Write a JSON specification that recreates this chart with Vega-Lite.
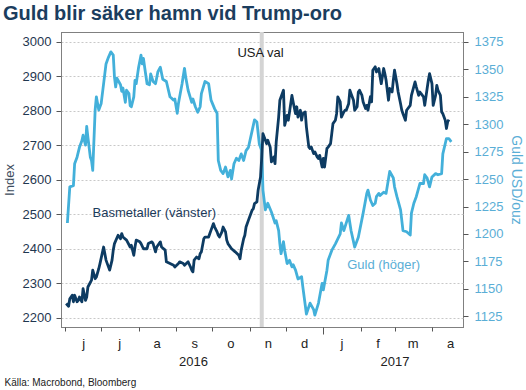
{
 "$schema": "https://vega.github.io/schema/vega-lite/v6.json",
 "width": 402,
 "height": 295,
 "autosize": {"type": "none"},
 "padding": {"left": 61, "top": 32, "right": 63, "bottom": 63},
 "title": {"text": "Guld blir säker hamn vid Trump-oro", "anchor": "start", "frame": "group", "dx": -58, "dy": 22, "offset": 12, "baseline": "alphabetic", "fontSize": 20, "font": "Liberation Sans", "fontWeight": "bold", "color": "#1b3d5e"},
 "config": {
  "view": {"stroke": "#000000", "strokeDash": [1, 1], "strokeWidth": 1},
  "font": "Liberation Sans",
  "axis": {"labelFont": "Liberation Sans", "titleFont": "Liberation Sans"}
 },
 "datasets": {
  "guld": [
   {"d":"2016-06-03","v":1210},{"d":"2016-06-05","v":1243},{"d":"2016-06-08","v":1244},{"d":"2016-06-09","v":1264},{"d":"2016-06-11","v":1270},{"d":"2016-06-13","v":1279},{"d":"2016-06-15","v":1285},{"d":"2016-06-16","v":1290},{"d":"2016-06-18","v":1281},{"d":"2016-06-19","v":1298},{"d":"2016-06-20","v":1288},{"d":"2016-06-22","v":1270},{"d":"2016-06-23","v":1267},{"d":"2016-06-24","v":1258},{"d":"2016-06-26","v":1313},{"d":"2016-06-27","v":1325},{"d":"2016-06-29","v":1313},{"d":"2016-07-01","v":1319},{"d":"2016-07-04","v":1346},{"d":"2016-07-05","v":1355},{"d":"2016-07-07","v":1361},{"d":"2016-07-09","v":1366},{"d":"2016-07-11","v":1363},{"d":"2016-07-12","v":1343},{"d":"2016-07-13","v":1334},{"d":"2016-07-14","v":1342},{"d":"2016-07-17","v":1336},{"d":"2016-07-18","v":1330},{"d":"2016-07-19","v":1333},{"d":"2016-07-21","v":1320},{"d":"2016-07-22","v":1331},{"d":"2016-07-24","v":1328},{"d":"2016-07-25","v":1317},{"d":"2016-07-26","v":1316},{"d":"2016-07-28","v":1325},{"d":"2016-07-29","v":1340},{"d":"2016-07-30","v":1337},{"d":"2016-08-01","v":1352},{"d":"2016-08-03","v":1363},{"d":"2016-08-04","v":1355},{"d":"2016-08-05","v":1360},{"d":"2016-08-06","v":1352},{"d":"2016-08-08","v":1337},{"d":"2016-08-10","v":1336},{"d":"2016-08-11","v":1346},{"d":"2016-08-13","v":1339},{"d":"2016-08-15","v":1337},{"d":"2016-08-17","v":1348},{"d":"2016-08-19","v":1352},{"d":"2016-08-21","v":1341},{"d":"2016-08-24","v":1339},{"d":"2016-08-27","v":1325},{"d":"2016-08-30","v":1322},{"d":"2016-08-31","v":1323},{"d":"2016-09-02","v":1310},{"d":"2016-09-03","v":1319},{"d":"2016-09-04","v":1325},{"d":"2016-09-06","v":1337},{"d":"2016-09-08","v":1351},{"d":"2016-09-09","v":1343},{"d":"2016-09-11","v":1331},{"d":"2016-09-14","v":1320},{"d":"2016-09-15","v":1323},{"d":"2016-09-17","v":1316},{"d":"2016-09-19","v":1311},{"d":"2016-09-21","v":1316},{"d":"2016-09-22","v":1328},{"d":"2016-09-25","v":1339},{"d":"2016-09-28","v":1337},{"d":"2016-09-30","v":1322},{"d":"2016-10-03","v":1314},{"d":"2016-10-05","v":1310},{"d":"2016-10-06","v":1267},{"d":"2016-10-08","v":1258},{"d":"2016-10-10","v":1255},{"d":"2016-10-12","v":1261},{"d":"2016-10-14","v":1252},{"d":"2016-10-16","v":1258},{"d":"2016-10-17","v":1250},{"d":"2016-10-19","v":1264},{"d":"2016-10-21","v":1269},{"d":"2016-10-23","v":1267},{"d":"2016-10-25","v":1273},{"d":"2016-10-27","v":1267},{"d":"2016-10-29","v":1276},{"d":"2016-10-31","v":1279},{"d":"2016-11-03","v":1294},{"d":"2016-11-05","v":1304},{"d":"2016-11-07","v":1302},{"d":"2016-11-09","v":1282},{"d":"2016-11-11","v":1276},{"d":"2016-11-12","v":1240},{"d":"2016-11-14","v":1222},{"d":"2016-11-16","v":1228},{"d":"2016-11-19","v":1220},{"d":"2016-11-22","v":1210},{"d":"2016-11-23","v":1212},{"d":"2016-11-25","v":1203},{"d":"2016-11-26","v":1191},{"d":"2016-11-27","v":1182},{"d":"2016-11-29","v":1193},{"d":"2016-11-30","v":1185},{"d":"2016-12-02","v":1173},{"d":"2016-12-04","v":1176},{"d":"2016-12-06","v":1170},{"d":"2016-12-07","v":1172},{"d":"2016-12-09","v":1167},{"d":"2016-12-11","v":1159},{"d":"2016-12-14","v":1161},{"d":"2016-12-15","v":1152},{"d":"2016-12-18","v":1127},{"d":"2016-12-21","v":1137},{"d":"2016-12-24","v":1131},{"d":"2016-12-25","v":1126},{"d":"2016-12-28","v":1137},{"d":"2016-12-31","v":1155},{"d":"2017-01-01","v":1149},{"d":"2017-01-04","v":1167},{"d":"2017-01-05","v":1176},{"d":"2017-01-08","v":1185},{"d":"2017-01-11","v":1191},{"d":"2017-01-15","v":1200},{"d":"2017-01-16","v":1210},{"d":"2017-01-18","v":1203},{"d":"2017-01-22","v":1217},{"d":"2017-01-24","v":1203},{"d":"2017-01-27","v":1188},{"d":"2017-01-30","v":1197},{"d":"2017-02-03","v":1219},{"d":"2017-02-06","v":1237},{"d":"2017-02-07","v":1240},{"d":"2017-02-09","v":1231},{"d":"2017-02-11","v":1226},{"d":"2017-02-13","v":1228},{"d":"2017-02-14","v":1234},{"d":"2017-02-16","v":1237},{"d":"2017-02-17","v":1235},{"d":"2017-02-20","v":1238},{"d":"2017-02-22","v":1237},{"d":"2017-02-25","v":1257},{"d":"2017-02-28","v":1251},{"d":"2017-03-01","v":1243},{"d":"2017-03-03","v":1234},{"d":"2017-03-06","v":1222},{"d":"2017-03-08","v":1203},{"d":"2017-03-11","v":1202},{"d":"2017-03-14","v":1199},{"d":"2017-03-15","v":1219},{"d":"2017-03-17","v":1228},{"d":"2017-03-19","v":1234},{"d":"2017-03-22","v":1246},{"d":"2017-03-25","v":1246},{"d":"2017-03-26","v":1254},{"d":"2017-03-28","v":1251},{"d":"2017-03-30","v":1243},{"d":"2017-04-01","v":1252},{"d":"2017-04-04","v":1255},{"d":"2017-04-06","v":1254},{"d":"2017-04-09","v":1255},{"d":"2017-04-10","v":1273},{"d":"2017-04-13","v":1287},{"d":"2017-04-15","v":1287},{"d":"2017-04-17","v":1284}
  ],
  "bas": [
   {"d":"2016-06-02","v":2241},{"d":"2016-06-04","v":2233},{"d":"2016-06-05","v":2255},{"d":"2016-06-07","v":2265},{"d":"2016-06-08","v":2246},{"d":"2016-06-09","v":2265},{"d":"2016-06-11","v":2246},{"d":"2016-06-12","v":2250},{"d":"2016-06-13","v":2260},{"d":"2016-06-15","v":2246},{"d":"2016-06-16","v":2284},{"d":"2016-06-18","v":2250},{"d":"2016-06-19","v":2260},{"d":"2016-06-20","v":2289},{"d":"2016-06-23","v":2309},{"d":"2016-06-24","v":2338},{"d":"2016-06-26","v":2313},{"d":"2016-06-27","v":2318},{"d":"2016-06-29","v":2342},{"d":"2016-06-30","v":2357},{"d":"2016-07-03","v":2405},{"d":"2016-07-04","v":2386},{"d":"2016-07-05","v":2367},{"d":"2016-07-08","v":2338},{"d":"2016-07-10","v":2367},{"d":"2016-07-11","v":2396},{"d":"2016-07-12","v":2415},{"d":"2016-07-15","v":2439},{"d":"2016-07-17","v":2429},{"d":"2016-07-18","v":2444},{"d":"2016-07-19","v":2434},{"d":"2016-07-22","v":2425},{"d":"2016-07-25","v":2405},{"d":"2016-07-26","v":2410},{"d":"2016-07-28","v":2381},{"d":"2016-07-29","v":2405},{"d":"2016-07-30","v":2425},{"d":"2016-08-02","v":2420},{"d":"2016-08-03","v":2415},{"d":"2016-08-05","v":2400},{"d":"2016-08-08","v":2400},{"d":"2016-08-09","v":2415},{"d":"2016-08-12","v":2420},{"d":"2016-08-13","v":2415},{"d":"2016-08-15","v":2391},{"d":"2016-08-16","v":2405},{"d":"2016-08-19","v":2420},{"d":"2016-08-20","v":2405},{"d":"2016-08-23","v":2396},{"d":"2016-08-24","v":2362},{"d":"2016-08-27","v":2357},{"d":"2016-08-30","v":2352},{"d":"2016-08-31","v":2347},{"d":"2016-09-03","v":2357},{"d":"2016-09-04","v":2362},{"d":"2016-09-07","v":2357},{"d":"2016-09-08","v":2352},{"d":"2016-09-11","v":2362},{"d":"2016-09-13","v":2347},{"d":"2016-09-14","v":2338},{"d":"2016-09-15","v":2333},{"d":"2016-09-16","v":2367},{"d":"2016-09-18","v":2376},{"d":"2016-09-20","v":2371},{"d":"2016-09-21","v":2386},{"d":"2016-09-22","v":2391},{"d":"2016-09-24","v":2429},{"d":"2016-09-25","v":2434},{"d":"2016-09-28","v":2434},{"d":"2016-09-29","v":2444},{"d":"2016-09-30","v":2454},{"d":"2016-10-02","v":2473},{"d":"2016-10-03","v":2463},{"d":"2016-10-05","v":2449},{"d":"2016-10-06","v":2439},{"d":"2016-10-07","v":2434},{"d":"2016-10-09","v":2449},{"d":"2016-10-10","v":2463},{"d":"2016-10-12","v":2449},{"d":"2016-10-13","v":2425},{"d":"2016-10-14","v":2415},{"d":"2016-10-17","v":2400},{"d":"2016-10-20","v":2391},{"d":"2016-10-23","v":2381},{"d":"2016-10-24","v":2371},{"d":"2016-10-25","v":2396},{"d":"2016-10-27","v":2429},{"d":"2016-10-28","v":2439},{"d":"2016-10-29","v":2463},{"d":"2016-10-31","v":2483},{"d":"2016-11-03","v":2512},{"d":"2016-11-04","v":2516},{"d":"2016-11-05","v":2531},{"d":"2016-11-07","v":2536},{"d":"2016-11-08","v":2570},{"d":"2016-11-10","v":2608},{"d":"2016-11-11","v":2666},{"d":"2016-11-12","v":2734},{"d":"2016-11-14","v":2715},{"d":"2016-11-15","v":2705},{"d":"2016-11-16","v":2715},{"d":"2016-11-18","v":2695},{"d":"2016-11-19","v":2652},{"d":"2016-11-21","v":2666},{"d":"2016-11-22","v":2647},{"d":"2016-11-23","v":2710},{"d":"2016-11-25","v":2782},{"d":"2016-11-26","v":2831},{"d":"2016-11-29","v":2860},{"d":"2016-11-30","v":2758},{"d":"2016-12-02","v":2787},{"d":"2016-12-03","v":2773},{"d":"2016-12-04","v":2797},{"d":"2016-12-06","v":2845},{"d":"2016-12-07","v":2826},{"d":"2016-12-09","v":2792},{"d":"2016-12-10","v":2812},{"d":"2016-12-11","v":2782},{"d":"2016-12-13","v":2802},{"d":"2016-12-14","v":2773},{"d":"2016-12-15","v":2792},{"d":"2016-12-17","v":2797},{"d":"2016-12-18","v":2753},{"d":"2016-12-20","v":2695},{"d":"2016-12-21","v":2691},{"d":"2016-12-22","v":2695},{"d":"2016-12-24","v":2676},{"d":"2016-12-25","v":2681},{"d":"2016-12-27","v":2666},{"d":"2016-12-28","v":2662},{"d":"2016-12-29","v":2671},{"d":"2016-12-31","v":2637},{"d":"2017-01-01","v":2662},{"d":"2017-01-02","v":2637},{"d":"2017-01-04","v":2691},{"d":"2017-01-05","v":2695},{"d":"2017-01-07","v":2705},{"d":"2017-01-08","v":2734},{"d":"2017-01-09","v":2763},{"d":"2017-01-11","v":2773},{"d":"2017-01-12","v":2792},{"d":"2017-01-13","v":2841},{"d":"2017-01-15","v":2826},{"d":"2017-01-16","v":2782},{"d":"2017-01-18","v":2797},{"d":"2017-01-19","v":2802},{"d":"2017-01-20","v":2802},{"d":"2017-01-22","v":2821},{"d":"2017-01-23","v":2860},{"d":"2017-01-24","v":2850},{"d":"2017-01-26","v":2831},{"d":"2017-01-27","v":2802},{"d":"2017-01-29","v":2812},{"d":"2017-01-30","v":2855},{"d":"2017-01-31","v":2860},{"d":"2017-02-02","v":2845},{"d":"2017-02-03","v":2826},{"d":"2017-02-05","v":2807},{"d":"2017-02-06","v":2816},{"d":"2017-02-07","v":2802},{"d":"2017-02-09","v":2841},{"d":"2017-02-10","v":2826},{"d":"2017-02-11","v":2918},{"d":"2017-02-13","v":2928},{"d":"2017-02-14","v":2913},{"d":"2017-02-16","v":2923},{"d":"2017-02-17","v":2899},{"d":"2017-02-18","v":2879},{"d":"2017-02-20","v":2923},{"d":"2017-02-21","v":2908},{"d":"2017-02-22","v":2889},{"d":"2017-02-24","v":2831},{"d":"2017-02-25","v":2865},{"d":"2017-02-27","v":2855},{"d":"2017-02-28","v":2889},{"d":"2017-03-01","v":2918},{"d":"2017-03-03","v":2879},{"d":"2017-03-04","v":2855},{"d":"2017-03-06","v":2821},{"d":"2017-03-07","v":2802},{"d":"2017-03-08","v":2792},{"d":"2017-03-10","v":2773},{"d":"2017-03-11","v":2802},{"d":"2017-03-14","v":2816},{"d":"2017-03-15","v":2845},{"d":"2017-03-18","v":2884},{"d":"2017-03-19","v":2870},{"d":"2017-03-21","v":2845},{"d":"2017-03-22","v":2855},{"d":"2017-03-23","v":2850},{"d":"2017-03-25","v":2841},{"d":"2017-03-26","v":2816},{"d":"2017-03-28","v":2865},{"d":"2017-03-29","v":2889},{"d":"2017-03-30","v":2908},{"d":"2017-04-01","v":2879},{"d":"2017-04-02","v":2816},{"d":"2017-04-04","v":2845},{"d":"2017-04-05","v":2874},{"d":"2017-04-06","v":2860},{"d":"2017-04-08","v":2845},{"d":"2017-04-09","v":2797},{"d":"2017-04-10","v":2792},{"d":"2017-04-12","v":2773},{"d":"2017-04-13","v":2749},{"d":"2017-04-14","v":2768},{"d":"2017-04-15","v":2775}
  ],
  "valdag": [{"d": "2016-11-11"}],
  "textLeft": [
   {"d": "2016-11-10", "v": 2967, "t": "USA val"},
   {"d": "2016-08-14", "v": 2503, "t": "Basmetaller (vänster)"}
  ],
  "textRight": [
   {"d": "2017-02-20", "v": 1171.5, "t": "Guld (höger)"}
  ]
 },
 "layer": [
  {
   "data": {"name": "valdag"},
   "mark": {"type": "rule", "color": "#d4d4d4", "strokeWidth": 4},
   "encoding": {
    "x": {"field": "d", "type": "temporal",
     "scale": {"type": "utc", "domain": [{"year": 2016, "month": 5, "date": 28, "hours": 17, "utc": true}, {"year": 2017, "month": 4, "date": 26, "hours": 17, "utc": true}]},
     "axis": {"orient": "bottom", "title": null, "labels": false, "domain": false, "grid": false, "tickSize": 4, "tickColor": "#555555",
      "values": [{"year": 2016, "month": 6, "date": 1, "utc": true}, {"year": 2016, "month": 7, "date": 1, "utc": true}, {"year": 2016, "month": 8, "date": 1, "utc": true}, {"year": 2016, "month": 9, "date": 1, "utc": true}, {"year": 2016, "month": 10, "date": 1, "utc": true}, {"year": 2016, "month": 11, "date": 1, "utc": true}, {"year": 2016, "month": 12, "date": 1, "utc": true}, {"year": 2017, "month": 2, "date": 1, "utc": true}, {"year": 2017, "month": 3, "date": 1, "utc": true}, {"year": 2017, "month": 4, "date": 1, "utc": true}]}}
   }
  },
  {
   "data": {"name": "guld"},
   "mark": {"type": "line", "color": "#43b0da", "strokeWidth": 2.8, "strokeJoin": "round"},
   "encoding": {
    "x": {"field": "d", "type": "temporal",
     "scale": {"type": "utc", "domain": [{"year": 2016, "month": 5, "date": 28, "hours": 17, "utc": true}, {"year": 2017, "month": 4, "date": 26, "hours": 17, "utc": true}]},
     "axis": {"orient": "bottom", "title": null, "ticks": false, "tickSize": 0, "domain": false, "grid": false, "labelPadding": 20, "labelBaseline": "alphabetic", "labelFontSize": 13, "labelColor": "#222222", "labelFlush": false, "labelOverlap": false,
      "labelExpr": "lower(slice(utcFormat(datum.value, '%b'), 0, 1))",
      "values": [{"year": 2016, "month": 6, "date": 16, "utc": true}, {"year": 2016, "month": 7, "date": 16, "utc": true}, {"year": 2016, "month": 8, "date": 16, "utc": true}, {"year": 2016, "month": 9, "date": 16, "utc": true}, {"year": 2016, "month": 10, "date": 16, "utc": true}, {"year": 2016, "month": 11, "date": 16, "utc": true}, {"year": 2016, "month": 12, "date": 16, "utc": true}, {"year": 2017, "month": 1, "date": 16, "utc": true}, {"year": 2017, "month": 2, "date": 15, "utc": true}, {"year": 2017, "month": 3, "date": 16, "utc": true}, {"year": 2017, "month": 4, "date": 16, "utc": true}]}},
    "y": {"field": "v", "type": "quantitative",
     "scale": {"domain": [1115.2, 1384.1], "nice": false, "zero": false},
     "axis": {"orient": "right", "format": "d", "values": [1125, 1150, 1175, 1200, 1225, 1250, 1275, 1300, 1325, 1350, 1375], "grid": false, "domain": false, "tickSize": 5, "tickColor": "#555555", "labelPadding": 6, "labelFontSize": 13, "labelColor": "#5aaed6", "title": "Guld USD/ouz", "titleFontSize": 14, "titleFontWeight": "normal", "titleColor": "#5aaed6", "titlePadding": 6}}
   }
  },
  {
   "data": {"name": "bas"},
   "mark": {"type": "line", "color": "#0d3b62", "strokeWidth": 2.8, "strokeJoin": "round"},
   "encoding": {
    "x": {"field": "d", "type": "temporal",
     "scale": {"type": "utc", "domain": [{"year": 2016, "month": 5, "date": 28, "hours": 17, "utc": true}, {"year": 2017, "month": 4, "date": 26, "hours": 17, "utc": true}]},
     "axis": {"orient": "bottom", "ticks": false, "tickSize": 0, "domain": false, "grid": false, "labelPadding": 38, "labelBaseline": "alphabetic", "labelFontSize": 13, "labelColor": "#222222", "labelFlush": false, "labelOverlap": false,
      "labelExpr": "utcFormat(datum.value, '%Y')",
      "values": [{"year": 2016, "month": 9, "date": 15, "utc": true}, {"year": 2017, "month": 3, "date": 1, "utc": true}],
      "title": "Källa: Macrobond, Bloomberg", "titleX": -57, "titleY": 58, "titleAlign": "left", "titleAnchor": "start", "titleBaseline": "alphabetic", "titleFontSize": 10, "titleFontWeight": "normal", "titleColor": "#222222"}},
    "y": {"field": "v", "type": "quantitative",
     "scale": {"domain": [2172.9, 3029], "nice": false, "zero": false},
     "axis": {"orient": "left", "format": "d", "values": [2200, 2300, 2400, 2500, 2600, 2700, 2800, 2900, 3000], "grid": true, "gridColor": "#c8c8c8", "gridDash": [2, 2], "domain": false, "tickSize": 5, "tickColor": "#555555", "labelPadding": 5, "labelFontSize": 13, "labelColor": "#1f3750", "title": "Index", "titleFontSize": 13, "titleFontWeight": "normal", "titleColor": "#3c4b5c", "titlePadding": 6}}
   }
  },
  {
   "data": {"name": "textLeft"},
   "mark": {"type": "text", "fontSize": 13, "font": "Liberation Sans", "align": "center", "baseline": "middle"},
   "encoding": {
    "x": {"field": "d", "type": "temporal",
     "scale": {"type": "utc", "domain": [{"year": 2016, "month": 5, "date": 28, "hours": 17, "utc": true}, {"year": 2017, "month": 4, "date": 26, "hours": 17, "utc": true}]},
     "axis": {"orient": "bottom", "title": null, "labels": false, "domain": false, "grid": false, "tickSize": 7, "tickColor": "#555555", "values": [{"year": 2017, "month": 1, "date": 1, "utc": true}]}},
    "y": {"field": "v", "type": "quantitative", "scale": {"domain": [2172.9, 3029], "nice": false, "zero": false}, "axis": null},
    "text": {"field": "t"},
    "color": {"field": "t", "type": "nominal", "scale": {"domain": ["USA val", "Basmetaller (vänster)"], "range": ["#1a1a1a", "#1b3a5a"]}, "legend": null}
   }
  },
  {
   "data": {"name": "textRight"},
   "mark": {"type": "text", "fontSize": 13, "font": "Liberation Sans", "align": "center", "baseline": "middle", "color": "#5aaed6"},
   "encoding": {
    "x": {"field": "d", "type": "temporal",
     "scale": {"type": "utc", "domain": [{"year": 2016, "month": 5, "date": 28, "hours": 17, "utc": true}, {"year": 2017, "month": 4, "date": 26, "hours": 17, "utc": true}]},
     "axis": null},
    "y": {"field": "v", "type": "quantitative", "scale": {"domain": [1115.2, 1384.1], "nice": false, "zero": false}, "axis": null},
    "text": {"field": "t"}
   }
  }
 ],
 "resolve": {"scale": {"y": "independent", "color": "independent"}, "axis": {"x": "independent", "y": "independent"}}
}
